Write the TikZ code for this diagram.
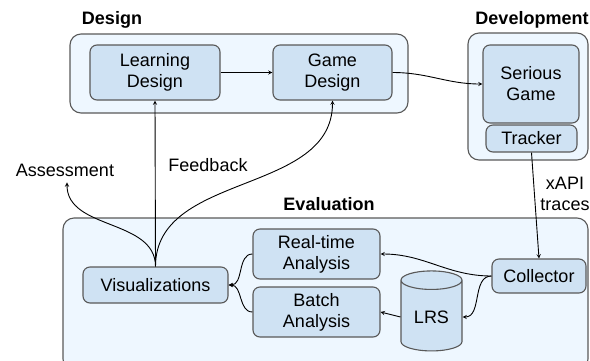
\documentclass[tikz,border=0pt]{standalone}
\usepackage{fontspec}
\setmainfont{Liberation Sans}
\usetikzlibrary{shapes.geometric,arrows,positioning}
\definecolor{outerblue}{HTML}{EEF7FF}
\definecolor{innerblue}{HTML}{CFE2F3}
\definecolor{linegray}{HTML}{595959}
\begin{document}
\begin{tikzpicture}[x=1pt,y=-1pt,
phasebox/.style={rectangle, draw=linegray, fill=outerblue, line width=1.1pt, rounded corners=11pt},
phaseheader/.style={font=\fontsize{18}{20}\selectfont\bfseries},
stepnode/.style={rectangle, draw=linegray, fill=innerblue, line width=1.1pt, rounded corners=7pt, font=\fontsize{18}{21}\selectfont, inner sep=1pt},
dbnode/.style={cylinder, shape border rotate=90, aspect=0.5, draw=linegray, fill=innerblue, line width=1.1pt, font=\fontsize{18}{21}\selectfont, inner sep=1pt},
plaintext/.style={font=\fontsize{18}{21}\selectfont, inner sep=1pt},
flow/.style={->, line width=0.9pt},
nodes = {align = center},
>=stealth
]
\useasboundingbox (0,0) rectangle (590,360);
\clip (0,0) rectangle (590,360);

%Phases
\node[phasebox, minimum width=338, minimum height=79] (designbox) at (239,73.5) {};
\node[phasebox, minimum width=120, minimum height=127] (devbox) at (528,96.5) {};
\node[phasebox, minimum width=525, minimum height=152] (evalbox) at (325.5,294) {};
\node[phaseheader] (designh) at (112,20) {Design};
\node[phaseheader] (devh) at (532,20) {Development};
\node[phaseheader] (evalh) at (329,204) {Evaluation};

%Nodes
\node[stepnode, minimum width=130, minimum height=55] (learning) at (155,72.5) {Learning\\Design};
\node[stepnode, minimum width=119, minimum height=55] (game) at (332.5,72.5) {Game\\Design};
\node[stepnode, minimum width=96, minimum height=78] (serious) at (531,84) {Serious\\Game};
\node[stepnode, minimum width=91, minimum height=27] (tracker) at (531.5,138.5) {Tracker};
\node[stepnode, minimum width=145, minimum height=36] (vis) at (155.5,285) {Visualizations};
\node[stepnode, minimum width=127, minimum height=50] (realtime) at (316.5,254) {Real-time\\Analysis};
\node[stepnode, minimum width=127, minimum height=50] (batch) at (316.5,312) {Batch\\Analysis};
\node[dbnode, minimum width=61, minimum height=80] (lrs) at (431.5,317) {LRS};
\node[stepnode, minimum width=94, minimum height=34] (collector) at (539,276) {Collector};

\node[plaintext] (assess) at (65,170) {Assessment};
\node[plaintext] (feedback) at (208,165) {Feedback};
\node[plaintext] (xapi) at (565,194) {xAPI\\traces};

%Lines
\draw[flow] (learning.east) -- (game.west);
\draw[flow] (game.east) to[out=0,in=180] (serious.west);
\draw[flow] (tracker.south) -- (collector.north);
\draw[flow] (collector.west) to[out=180,in=0] (realtime.east);
\draw[flow] (collector.west) to[out=180,in=0] (lrs.east);
\draw[flow] (lrs.west) -- (batch.east);
\draw[flow] (realtime.west) to[out=180,in=0] (vis.east);
\draw[flow] (batch.west) to[out=180,in=0] (vis.east);
\draw[flow] (vis.north) -- (learning.south);
\draw[flow] (vis.north) to[out=90,in=-90] (game.south);
\draw[flow] (vis.north) to[out=90,in=-90] ([xshift=2pt,yshift=-5pt]assess.south);

\end{tikzpicture}
\end{document}
